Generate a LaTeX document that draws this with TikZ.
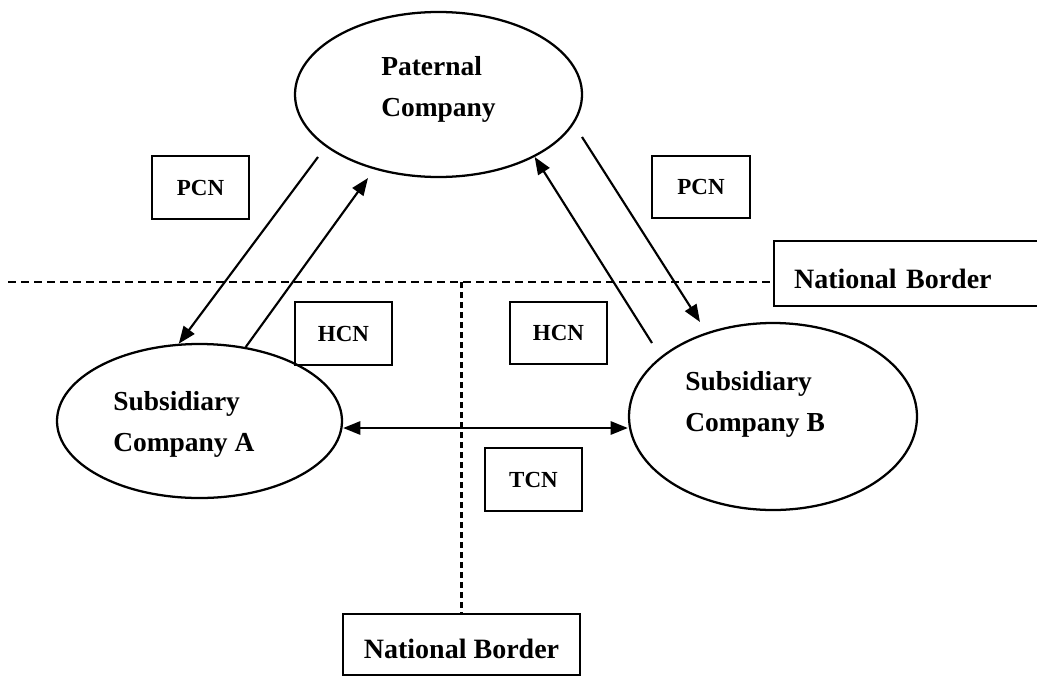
\documentclass[tikz,border=0pt]{standalone}
\usepackage{fontspec}
\setmainfont{Liberation Serif}
\usetikzlibrary{shapes.geometric,arrows.meta,calc}
\begin{document}
\begin{tikzpicture}[x=0.75pt,y=-0.75pt,
  ell/.style={draw, ellipse, line width=1.7pt, inner sep=0pt},
  lbl/.style={font=\fontsize{20.6}{30.75}\selectfont\bfseries, align=left, inner sep=0pt, anchor=north west},
  tag/.style={draw, line width=1.6pt, minimum width=73pt, minimum height=47pt, inner sep=0pt, font=\fontsize{17.25}{20}\selectfont\bfseries},
  border/.style={draw, line width=1.6pt, inner sep=0pt, font=\fontsize{21}{25}\selectfont\bfseries},
  arr/.style={line width=1.6pt, -{Triangle[length=13pt,width=10pt]}},
  darr/.style={line width=1.6pt, {Triangle[length=13pt,width=10pt]}-{Triangle[length=13pt,width=10pt]}},
  bline/.style={line width=1.6pt, dash pattern=on 6pt off 3.75pt},
  vline/.style={line width=1.6pt, dash pattern=on 4.5pt off 3pt},
]
\useasboundingbox (0,0) rectangle (1037,678);

% company ellipses
\node[ell, minimum width=215.25pt, minimum height=123.75pt] (pc) at (438.5,94.5) {};
\node[ell, minimum width=213.75pt, minimum height=115.5pt] (sa) at (199.5,421) {};
\node[ell, minimum width=216pt, minimum height=140.25pt] (sb) at (773,416.5) {};

\node[lbl] (pc-t) at (381,56.5) {Paternal\\Company};
\node[lbl] (sa-t) at (113,391.5) {Subsidiary\\Company A};
\node[lbl] (sb-t) at (685,371.5) {Subsidiary\\Company B};

% tags
\node[tag] (pcn1) at (200.5,187.5) {PCN};
\node[tag] (pcn2) at (701,187) {PCN};
\node[tag] (hcn1) at (343.5,333.5) {HCN};
\node[tag] (hcn2) at (558.5,333) {HCN};
\node[tag] (tcn) at (533.5,479.5) {TCN};

% borders
\node[border, anchor=west, text width=174pt, inner xsep=15pt, minimum height=48.75pt, align=left, text height=22pt, text depth=0pt] (nb1) at (773,273.5) {National Border};
\node[border, minimum width=177.75pt, minimum height=45.75pt, text height=20.6pt, text depth=0pt] (nb2) at (461.5,644.5) {National Border};

\coordinate (hl) at (8,282);
\draw[bline] (hl) -- (hl -| nb1.west);
\draw[vline] (hl -| nb2.north) -- (nb2.north);

% arrows
\coordinate (a1s) at (318,157);
\draw[arr] (a1s) -- (sa.105.9);
\coordinate (a2e) at (368,178);
\draw[arr] (sa.58) -- (a2e);
\coordinate (a3s) at (582,137);
\coordinate (a3e) at (700,322);
\draw[arr] (a3s) -- (a3e);
\coordinate (a4s) at (652,343);
\draw[arr] (a4s) -- (pc.-33.9);
\draw[darr] ($(sa.east)+(0,7)$) -- ($(sb.west)+(0,11.5)$);
\end{tikzpicture}
\end{document}
